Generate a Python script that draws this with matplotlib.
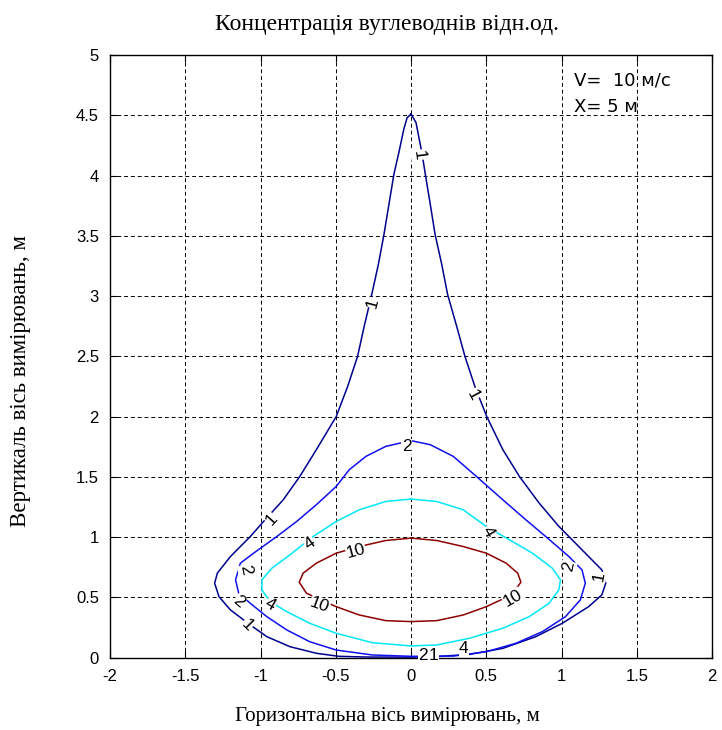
import matplotlib
matplotlib.use("Agg")
import matplotlib.pyplot as plt

# contour outlines (x, y in metres)
c1_x = [0, -0.026, -0.048, -0.081, -0.114, -0.147, -0.18, -0.217, -0.261, -0.311, -0.355, -0.421, -0.497,
        -0.629, -0.739, -0.849, -0.98, -1.068, -1.2, -1.287, -1.305, -1.276, -1.2, -1.068, -0.958, -0.805,
        -0.629, -0.48, -0.3, 0, 0.17, 0.39, 0.61, 0.829, 1.005, 1.18, 1.268, 1.294, 1.268, 1.18, 1.049,
        0.983, 0.851, 0.72, 0.61, 0.503, 0.424, 0.358, 0.303, 0.243, 0.204, 0.16, 0.128, 0.095, 0.072, 0.033, 0]
c1_y = [4.51, 4.48, 4.385, 4.19, 4.01, 3.76, 3.51, 3.263, 3.013, 2.75, 2.5, 2.25, 2.0,
        1.725, 1.503, 1.309, 1.129, 1.004, 0.838, 0.70, 0.617, 0.505, 0.395, 0.27, 0.173, 0.09,
        0.035, 0.01, 0.004, 0.003, 0.008, 0.026, 0.076, 0.173, 0.284, 0.422, 0.52, 0.617, 0.727, 0.838, 1.004,
        1.087, 1.282, 1.503, 1.725, 2.0, 2.25, 2.5, 2.75, 3.013, 3.263, 3.51, 3.76, 4.01, 4.19, 4.44, 4.51]

c2_x = [0, -0.168, -0.30, -0.41, -0.497, -0.629, -0.76, -0.892, -1.046, -1.134, -1.166, -1.145, -1.068,
        -0.958, -0.826, -0.673, -0.497, -0.257, 0, 0.281, 0.5, 0.697, 0.873, 1.026, 1.125, 1.158, 1.136,
        1.049, 0.895, 0.763, 0.61, 0.434, 0.281, 0.128, 0]
c2_y = [1.80, 1.752, 1.669, 1.559, 1.42, 1.268, 1.129, 1.004, 0.866, 0.783, 0.644, 0.534, 0.45,
        0.339, 0.229, 0.131, 0.062, 0.021, 0.01, 0.012, 0.048, 0.118, 0.215, 0.339, 0.478, 0.617, 0.727,
        0.838, 1.004, 1.143, 1.309, 1.503, 1.669, 1.766, 1.80]

c4_x = [0, -0.168, -0.344, -0.497, -0.651, -0.805, -0.925, -0.991, -0.991, -0.936, -0.826, -0.673, -0.497,
        -0.257, 0, 0.171, 0.39, 0.61, 0.785, 0.917, 0.982, 0.993, 0.939, 0.807, 0.654, 0.5, 0.347, 0.171, 0]
c4_y = [1.315, 1.295, 1.226, 1.129, 1.004, 0.852, 0.741, 0.644, 0.561, 0.464, 0.381, 0.284, 0.201,
        0.123, 0.096, 0.104, 0.16, 0.243, 0.339, 0.45, 0.561, 0.644, 0.741, 0.866, 0.977, 1.087, 1.226, 1.295, 1.315]

c10_x = [0, -0.168, -0.344, -0.497, -0.629, -0.717, -0.743, -0.695, -0.62, -0.497, -0.344, -0.168, 0,
         0.171, 0.347, 0.5, 0.6, 0.676, 0.73, 0.709, 0.632, 0.5, 0.347, 0.171, 0]
c10_y = [0.991, 0.971, 0.921, 0.866, 0.783, 0.70, 0.625, 0.534, 0.49, 0.422, 0.353, 0.306, 0.298,
         0.306, 0.353, 0.422, 0.48, 0.534, 0.625, 0.70, 0.783, 0.866, 0.921, 0.971, 0.991]

levels = ["1", "2", "4", "10"]
colors = ["#00008f", "#1010f0", "#00e8f8", "#8c0000"]

# inline label placement: (level text, x, y, rotation)
labels = [
    ("1", 0.05, 4.17, -82), ("1", -0.257, 2.944, 75), ("1", 0.413, 2.18, -62),
    ("1", -0.925, 1.143, 48), ("1", -1.09, 0.27, -45), ("1", 1.246, 0.672, 80),
    ("1", 0.15, 0.02, 0),
    ("2", -0.03, 1.75, 0), ("2", -1.1, 0.727, -78), ("2", -1.145, 0.464, -40),
    ("2", 1.049, 0.755, 78), ("2", 0.08, 0.02, 0),
    ("4", -0.673, 0.949, 35), ("4", -0.936, 0.436, -30), ("4", 0.511, 1.046, -60), ("4", 0.35, 0.075, 0),
    ("10", -0.366, 0.88, 15), ("10", -0.607, 0.436, -20), ("10", 0.676, 0.492, 30),
]

xticks = [-2, -1.5, -1, -0.5, 0, 0.5, 1, 1.5, 2]
xtick_labels = ["-2", "-1.5", "-1", "-0.5", "0", "0.5", "1", "1.5", "2"]
yticks = [0, 0.5, 1, 1.5, 2, 2.5, 3, 3.5, 4, 4.5, 5]
ytick_labels = ["0", "0.5", "1", "1.5", "2", "2.5", "3", "3.5", "4", "4.5", "5"]

fig = plt.figure(figsize=(7.22, 7.30), dpi=100)
ax = fig.add_axes([0.1524, 0.0993, 0.8338, 0.8253])

curves = [(c1_x, c1_y), (c2_x, c2_y), (c4_x, c4_y), (c10_x, c10_y)]
for (cx, cy), col in zip(curves, colors):
    ax.plot(cx, cy, color=col, lw=1.1, zorder=3)

for txt, lx, ly, rot in labels:
    ax.text(lx, ly, txt, rotation=rot, ha="center", va="center", fontsize=12.5,
            family="Liberation Sans", zorder=4,
            bbox=dict(facecolor="white", edgecolor="none", pad=0.2))

ax.text(1.085, 4.745, "V=  10 м/с", fontsize=13, family="DejaVu Sans")
ax.text(1.085, 4.526, "X= 5 м", fontsize=13, family="DejaVu Sans")

ax.set_xlim(-2, 2)
ax.set_ylim(0, 5)
ax.set_xticks(xticks)
ax.set_xticklabels(xtick_labels)
ax.set_yticks(yticks)
ax.set_yticklabels(ytick_labels)
ax.tick_params(direction="in", top=True, right=True, length=5, labelsize=12, pad=8)
for lab in ax.get_xticklabels() + ax.get_yticklabels():
    lab.set_family("Liberation Sans")
ax.grid(True, color="black", linestyle=(0, (4, 3)), lw=0.7)
ax.set_axisbelow(True)
for s in ax.spines.values():
    s.set_linewidth(1.0)

fig.text(0.536, 0.967, "Концентрація вуглеводнів відн.од.", ha="center", va="center",
         fontsize=17, family="Liberation Serif")
fig.text(0.536, 0.018, "Горизонтальна вісь вимірювань, м", ha="center", va="center",
         fontsize=15, family="Liberation Serif")
fig.text(0.029, 0.278, "Вертикаль вісь вимірювань, м", ha="center", va="bottom",
         rotation=90, fontsize=16.5, family="Liberation Serif")

fig.savefig("out.png", dpi=100)
